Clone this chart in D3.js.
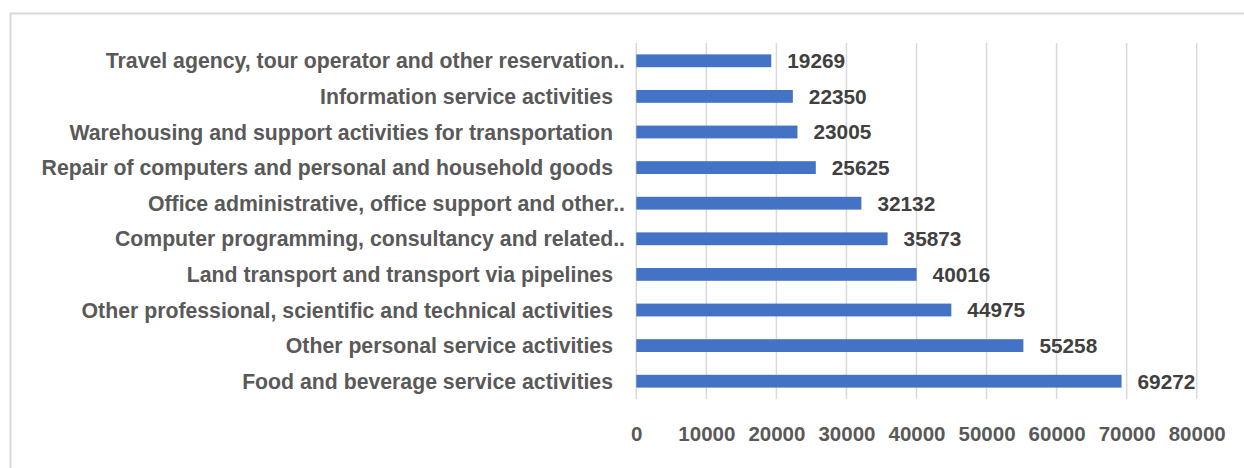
<!DOCTYPE html>
<html><head><meta charset="utf-8">
<script src="https://cdn.jsdelivr.net/npm/d3@7"></script>
<style>html,body{margin:0;padding:0;background:#fff;}svg{display:block;}</style>
</head><body>
<svg id="chart" width="1244" height="468"></svg>
<script>
const categories = [
  "Travel agency, tour operator and other reservation..",
  "Information service activities",
  "Warehousing and support activities for transportation",
  "Repair of computers and personal and household goods",
  "Office administrative, office support and other..",
  "Computer programming, consultancy and related..",
  "Land transport and transport via pipelines",
  "Other professional, scientific and technical activities",
  "Other personal service activities",
  "Food and beverage service activities"
];
const values = [19269, 22350, 23005, 25625, 32132, 35873, 40016, 44975, 55258, 69272];
const tickValues = [0, 10000, 20000, 30000, 40000, 50000, 60000, 70000, 80000];

const svg = d3.select("#chart");
const font = "'Liberation Sans', Arial, sans-serif";

// outer frame
svg.append("rect").attr("x", 10.5).attr("y", 13.5).attr("width", 1240).attr("height", 470)
  .attr("fill", "none").attr("stroke", "#d9d9d9").attr("stroke-width", 2);

const x = d3.scaleLinear().domain([0, 80000]).range([636.3, 1196.7]);
const y = d3.scaleBand().domain(categories).range([43, 399]).paddingInner(0.64).paddingOuter(0.32);

// gridlines
svg.append("g").selectAll("line").data(tickValues).join("line")
  .attr("x1", d => x(d)).attr("x2", d => x(d))
  .attr("y1", 43).attr("y2", 399)
  .attr("stroke", "#d9d9d9").attr("stroke-width", 1.5);

// bars
svg.append("g").selectAll("rect").data(values).join("rect")
  .attr("x", x(0))
  .attr("y", (d, i) => y(categories[i]))
  .attr("width", d => x(d) - x(0))
  .attr("height", y.bandwidth())
  .attr("fill", "#4472C4");

// value labels
svg.append("g").selectAll("text").data(values).join("text")
  .attr("x", d => x(d) + 16)
  .attr("y", (d, i) => y(categories[i]) + y.bandwidth() / 2)
  .attr("dy", "0.36em")
  .attr("font-family", font).attr("font-weight", "bold").attr("font-size", "20.8px")
  .attr("fill", "#404040")
  .text(d => d);

// category labels
svg.append("g").selectAll("text").data(categories).join("text")
  .attr("x", d => d.endsWith("..") ? 625 : 613)
  .attr("y", d => y(d) + y.bandwidth() / 2)
  .attr("dy", "0.36em")
  .attr("text-anchor", "end")
  .attr("font-family", font).attr("font-weight", "bold").attr("font-size", "21.25px")
  .attr("fill", "#595959")
  .text(d => d);

// x axis tick labels
const axis = d3.axisBottom(x).tickValues(tickValues).tickSize(0).tickPadding(0).tickFormat(d3.format("d"));
const gx = svg.append("g").attr("transform", "translate(0,434)").call(axis);
gx.select(".domain").remove();
gx.selectAll("text").attr("dy", "0.36em").attr("y", 0)
  .attr("font-family", font).attr("font-weight", "bold").attr("font-size", "20.5px")
  .attr("fill", "#595959");
</script>
</body></html>
